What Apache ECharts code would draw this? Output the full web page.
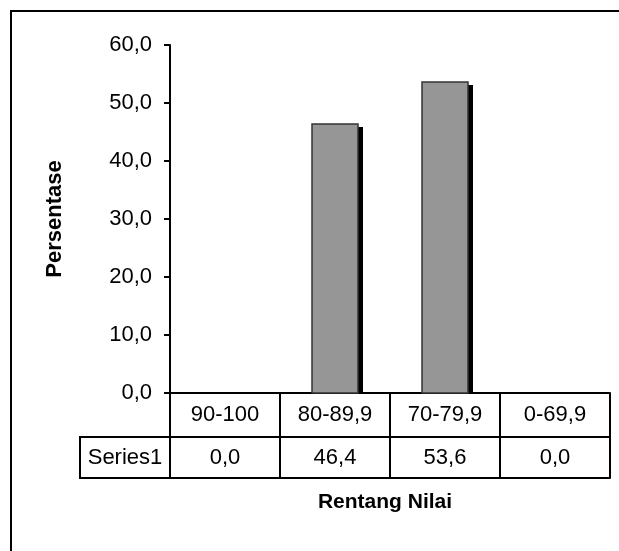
<!DOCTYPE html>
<html>
<head>
<meta charset="UTF-8">
<title>Persentase</title>
<script src="https://cdn.jsdelivr.net/npm/echarts@6/dist/echarts.min.js"></script>
<style>
	html, body{
		margin: 0;
		padding: 0;
		background: #fff;
	}
	#main{
		width: 619px;
		height: 551px;
	}
</style>
</head>
<body>
<div id="main"></div>
<script>
	// data
	let categories = ['90-100', '80-89,9', '70-79,9', '0-69,9'];
	let seriesName = 'Series1';
	let values = [0.0, 46.4, 53.6, 0.0];
	let yTicks = [0, 10, 20, 30, 40, 50, 60];

	let font = "'Liberation Sans', Arial, sans-serif";
	let fmt = v => Number(v).toFixed(1).replace('.', ',');

	// layout
	let gLeft = 170, gRight = 9, gTop = 45, gBottom = 158;
	let row1 = 44, row2 = 41;
	let baseY = 551 - gBottom;

	let myChart = echarts.init(document.getElementById('main'));

	// batang + bayangan hitam
	function renderBar(params, api){
		let v = api.value(1);
		if(!v) return null;
		let top = api.coord([api.value(0), v]);
		let bot = api.coord([api.value(0), 0]);
		let w = api.size([1, 0])[0] * 0.42;
		let x = Math.round(top[0] - w / 2);
		let y = Math.round(top[1]);
		let h = Math.round(bot[1]) - y;
		w = Math.round(w);
		return {
			type: 'group',
			children: [{
				type: 'rect',
				shape: { x: x + 5, y: y + 3, width: w, height: h - 3 },
				style: { fill: '#000' }
			}, {
				type: 'rect',
				shape: { x: x, y: y, width: w, height: h },
				style: { fill: '#969696', stroke: '#333', lineWidth: 1.5 }
			}]
		};
	}

	myChart.setOption({
		animation: false,
		textStyle: { fontFamily: font, color: '#000' },
		grid: {
			left: gLeft, right: gRight, top: gTop, bottom: gBottom,
			outerBoundsMode: 'none'
		},
		xAxis: [{
			type: 'category',
			data: categories,
			position: 'bottom',
			axisLine: { lineStyle: { color: '#000', width: 2 } },
			axisTick: { show: true, length: row1 + row2, lineStyle: { color: '#000', width: 2 } },
			axisLabel: {
				interval: 0, color: '#000', fontSize: 22, fontFamily: font,
				verticalAlign: 'middle', margin: row1 / 2
			}
		}, {
			// baris nilai
			type: 'category',
			data: categories,
			position: 'bottom',
			offset: row1,
			axisLine: { lineStyle: { color: '#000', width: 2 } },
			axisTick: { show: false },
			axisLabel: {
				interval: 0, color: '#000', fontSize: 22, fontFamily: font,
				verticalAlign: 'middle', margin: row2 / 2,
				formatter: function(v, i){ return fmt(values[i]); }
			}
		}, {
			type: 'category',
			data: categories,
			position: 'bottom',
			offset: row1 + row2,
			axisLine: { lineStyle: { color: '#000', width: 2 } },
			axisTick: { show: false },
			axisLabel: { show: false },
			name: 'Rentang Nilai',
			nameLocation: 'middle',
			nameGap: 14,
			nameTextStyle: {
				fontSize: 21, fontWeight: 'bold', color: '#000', fontFamily: font,
				padding: [0, 10, 0, 0]
			}
		}],
		yAxis: {
			type: 'value',
			min: yTicks[0],
			max: yTicks[yTicks.length - 1],
			interval: yTicks[1] - yTicks[0],
			axisLine: { show: true, lineStyle: { color: '#000', width: 2 } },
			axisTick: { show: true, length: 6, lineStyle: { color: '#000', width: 2 } },
			splitLine: { show: false },
			axisLabel: {
				color: '#000', fontSize: 22, fontFamily: font, margin: 18,
				formatter: fmt
			},
			name: 'Persentase',
			nameLocation: 'middle',
			nameRotate: 90,
			nameGap: 104,
			nameTextStyle: { fontSize: 22, fontWeight: 'bold', color: '#000', fontFamily: font }
		},
		series: [{
			name: seriesName,
			type: 'custom',
			renderItem: renderBar,
			encode: { x: 0, y: 1 },
			data: values.map((v, i) => [i, v]),
			z: 1
		}],
		graphic: [{
			// bingkai luar
			type: 'rect',
			shape: { x: 11, y: 11, width: 700, height: 700 },
			style: { fill: 'none', stroke: '#000', lineWidth: 2 },
			silent: true
		}, {
			// sel Series1
			type: 'rect',
			shape: { x: 80, y: baseY + row1, width: gLeft - 80, height: row2 },
			style: { fill: 'none', stroke: '#000', lineWidth: 2 },
			silent: true
		}, {
			type: 'text',
			x: (80 + gLeft) / 2,
			y: baseY + row1 + row2 / 2,
			style: {
				text: seriesName, fill: '#000', fontSize: 22, fontFamily: font,
				align: 'center', verticalAlign: 'middle'
			},
			silent: true
		}]
	});
</script>
</body>
</html>
